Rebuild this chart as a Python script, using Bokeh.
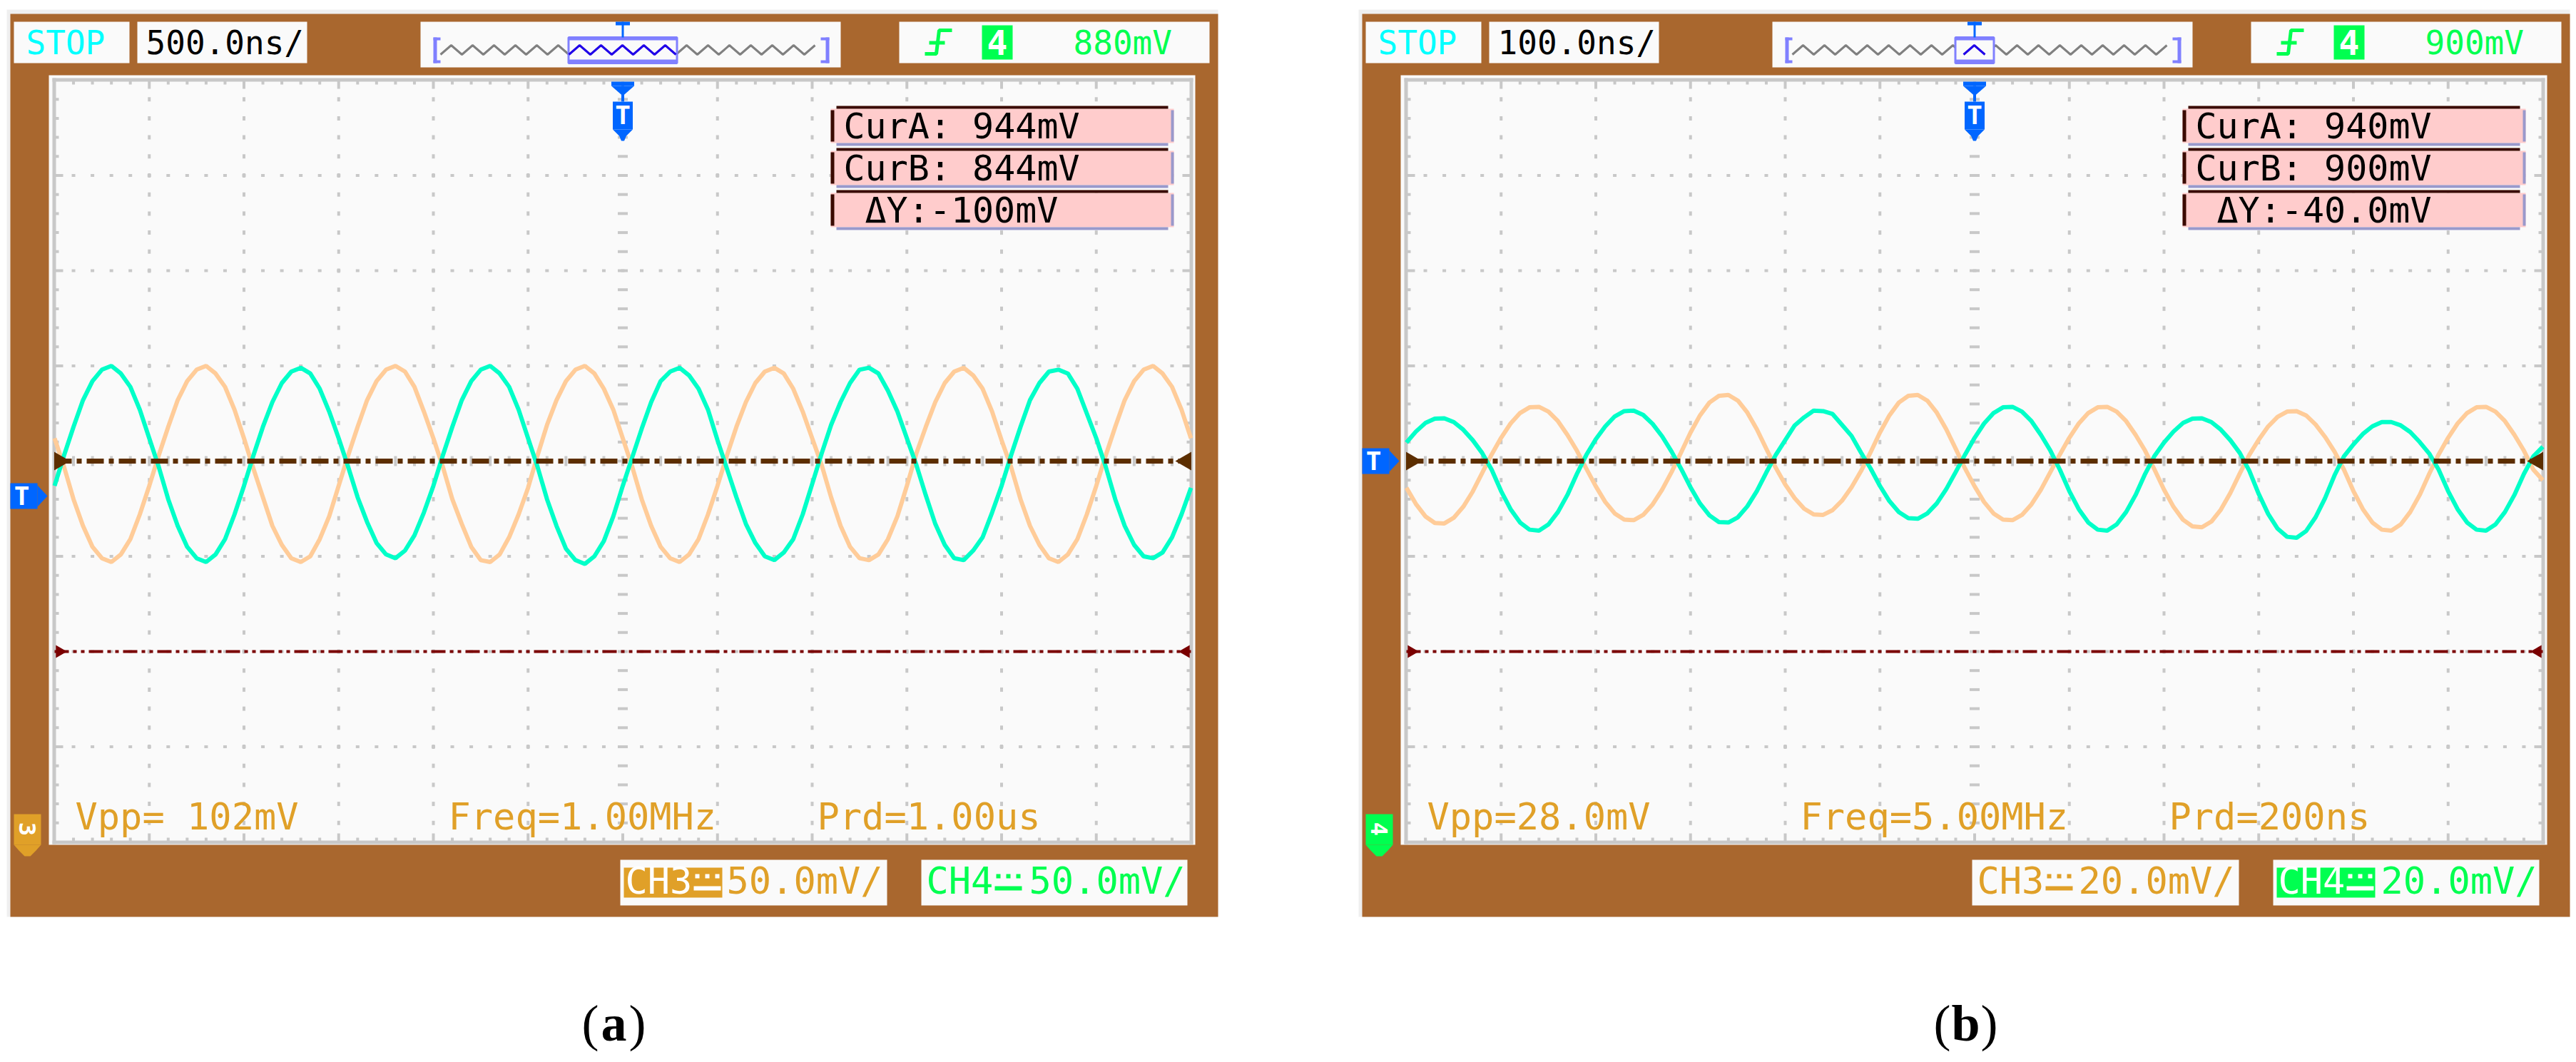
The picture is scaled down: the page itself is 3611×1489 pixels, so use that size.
import math
from bokeh.plotting import figure
from bokeh.models import Range1d
from bokeh.core.properties import value
from bokeh.embed import file_html
from bokeh.resources import INLINE

# ====================== DATA ======================
# ---- panel (a) ----
A_STATE = "STOP"
A_TIMEBASE = "500.0ns/"
A_TRIG_CH = "4"
A_TRIG_LEVEL = "880mV"
A_CUR_A_MV = 944
A_CUR_B_MV = 844
A_CURSOR_TEXT = ["CurA: 944mV", "CurB: 844mV", "ΔY:-100mV"]
A_MEAS_TEXT = ["Vpp= 102mV", "Freq=1.00MHz", "Prd=1.00us"]
A_CH3_SCALE = "50.0mV/"
A_CH4_SCALE = "50.0mV/"
A_NS_PER_DIV = 500
A_MV_PER_DIV = 50
A_TIME_NS = list(range(-3000, 3001, 50))
A_CH4_MV = [-13,
    3, 18, 32, 42, 48, 50, 46, 39, 27, 12, -3, -20, -34, -45, -51, -53, -49, -41, -28, -13,
    3, 18, 31, 41, 47, 49, 46, 38, 26, 12, -3, -19, -32, -43, -49, -51, -47, -39, -27, -13,
    3, 18, 32, 42, 48, 50, 46, 39, 27, 12, -3, -20, -34, -46, -52, -54, -50, -42, -29, -13,
    2, 17, 31, 42, 47, 49, 45, 38, 27, 11, -4, -19, -33, -43, -50, -52, -48, -41, -28, -12,
    4, 19, 31, 41, 48, 49, 46, 37, 26, 12, -2, -18, -33, -44, -51, -52, -47, -40, -27, -13,
    3, 18, 32, 41, 47, 48, 46, 38, 25, 12, -3, -20, -34, -44, -50, -51, -48, -40, -28, -14]
A_CH3_MV = [12,
    -3, -20, -34, -45, -51, -53, -49, -41, -28, -13, 3, 18, 32, 42, 48, 50, 46, 39, 27, 12,
    -4, -19, -34, -44, -51, -53, -50, -41, -29, -13, 3, 18, 32, 42, 48, 50, 47, 39, 26, 12,
    -3, -20, -33, -45, -52, -53, -49, -40, -28, -14, 3, 19, 32, 42, 48, 50, 46, 38, 27, 12,
    -3, -20, -34, -45, -51, -53, -49, -41, -28, -13, 3, 18, 31, 41, 47, 49, 46, 38, 26, 12,
    -2, -19, -34, -45, -51, -52, -49, -41, -29, -13, 4, 18, 31, 41, 47, 49, 45, 38, 26, 11,
    -3, -20, -34, -44, -51, -53, -49, -41, -28, -13, 3, 18, 32, 42, 48, 50, 46, 39, 27, 12]

# ---- panel (b) ----
B_STATE = "STOP"
B_TIMEBASE = "100.0ns/"
B_TRIG_CH = "4"
B_TRIG_LEVEL = "900mV"
B_CUR_A_MV = 940
B_CUR_B_MV = 900
B_CURSOR_TEXT = ["CurA: 940mV", "CurB: 900mV", "ΔY:-40.0mV"]
B_MEAS_TEXT = ["Vpp=28.0mV", "Freq=5.00MHz", "Prd=200ns"]
B_CH3_SCALE = "20.0mV/"
B_CH4_SCALE = "20.0mV/"
B_NS_PER_DIV = 100
B_MV_PER_DIV = 20
B_TIME_NS = list(range(-600, 601, 10))
B_CH4_MV = [
    3.9, 6.2, 8.0, 8.9, 9.0, 8.2, 6.6, 4.4, 1.7, -1.8, -6.3, -10.1, -12.9, -14.4, -14.6, -13.3, -10.7, -7.1, -2.7, 1.3,
    4.6, 7.3, 9.4, 10.5, 10.6, 9.7, 7.8, 5.2, 2.0, -1.6, -5.5, -8.9, -11.4, -12.8, -12.9, -11.8, -9.5, -6.3, -2.4, 1.3,
    4.4, 7.5, 9.2, 10.6, 10.5, 9.9, 7.6, 5.3, 1.8, -1.5, -5.2, -8.4, -10.7, -12.0, -12.1, -11.0, -8.9, -5.9, -2.3, 1.4,
    4.9, 7.9, 10.1, 11.3, 11.4, 10.4, 8.4, 5.5, 2.2, -1.8, -6.3, -10.1, -12.9, -14.4, -14.6, -13.3, -10.7, -7.1, -2.7, 1.1,
    3.9, 6.2, 8.0, 8.9, 9.0, 8.2, 6.6, 4.4, 1.7, -2.0, -6.9, -11.1, -14.2, -15.9, -16.1, -14.7, -11.8, -7.8, -3.0, 1.0,
    3.5, 5.7, 7.3, 8.2, 8.2, 7.5, 6.1, 4.0, 1.6, -1.8, -6.3, -10.1, -12.9, -14.4, -14.6, -13.3, -10.7, -7.1, -2.7, 1.0,
    3.0]
B_CH3_MV = [
    -5.6, -9.0, -11.6, -13.0, -13.1, -11.9, -9.6, -6.4, -2.5, 1.4, 4.9, 7.9, 10.1, 11.3, 11.4, 10.4, 8.4, 5.5, 2.2, -1.6,
    -5.3, -8.6, -11.0, -12.3, -12.4, -11.3, -9.1, -6.0, -2.3, 1.8, 6.0, 9.6, 12.3, 13.7, 13.9, 12.7, 10.2, 6.7, 2.6, -1.4,
    -4.9, -7.8, -10.0, -11.2, -11.3, -10.3, -8.3, -5.5, -2.1, 1.8, 6.0, 9.6, 12.3, 13.7, 13.9, 12.7, 10.2, 6.7, 2.6, -1.6,
    -5.3, -8.6, -11.0, -12.3, -12.4, -11.3, -9.1, -6.0, -2.3, 1.4, 4.9, 7.9, 10.1, 11.3, 11.4, 10.4, 8.4, 5.5, 2.2, -1.8,
    -6.0, -9.6, -12.3, -13.7, -13.9, -12.7, -10.2, -6.7, -2.6, 1.3, 4.5, 7.3, 9.3, 10.4, 10.5, 9.6, 7.7, 5.1, 2.0, -1.8,
    -6.3, -10.1, -12.9, -14.4, -14.6, -13.3, -10.7, -7.1, -2.7, 1.4, 4.9, 7.9, 10.1, 11.3, 11.4, 10.4, 8.4, 5.5, 2.2, -1.8,
    -4.0]

CAPTIONS = ["a", "b"]

# ====================== STYLE / LAYOUT ======================
BROWN = "#A9672E"
SCREEN = "#FAFAFA"
GRIDC = "#C8C8C8"
CYAN = "#00FFC8"
ORANGE = "#FFCC99"
CURA_C = "#5C2E00"
CURB_C = "#7A0000"
AMBER = "#E0A028"
GREEN = "#00FF50"
BLUE = "#0066FF"
PINK = "#FFCCCC"
DARK = "#3A0A00"
LAV = "#9999CC"
PURP = "#8080FF"
MONO = value("DejaVu Sans Mono")
SERIF = value("Liberation Serif")
FSN = 52      # bottom read-outs
FSH = 46      # header read-outs
FSC = 50      # cursor read-outs

W, H = 3611, 1489
PANEL_DX = 1895
GX0, GX1, GY0, GY1 = 76, 1669, 112, 1180
DX = (GX1 - GX0) / 12.0
DY = (GY1 - GY0) / 8.0
FRAME_BOTTOM = 1285

p = figure(width=W, height=H, x_range=Range1d(0, W), y_range=Range1d(H, 0),
           output_backend="svg", toolbar_location=None, min_border=0,
           x_axis_location=None, y_axis_location=None)
p.xgrid.visible = False
p.ygrid.visible = False
p.outline_line_color = None
p.background_fill_color = "white"
p.border_fill_color = "white"


def add_ranges(name, ox, ns_div, mv_div):
    gx0, gx1 = GX0 + ox, GX1 + ox
    t0, t1 = -6 * ns_div, 6 * ns_div
    k = (t1 - t0) / (gx1 - gx0)
    p.extra_x_ranges[name] = Range1d(t0 + (0 - gx0) * k, t0 + (W - gx0) * k)
    vt, vb = 4 * mv_div, -4 * mv_div
    kv = (vt - vb) / (GY1 - GY0)
    p.extra_y_ranges[name] = Range1d(vt - (H - GY0) * kv, vt + (GY0 - 0) * kv)


def txt(xs, ys, ts, color, size=FSN, align="left", font=MONO, style="normal", angle=0.0, mid=0.35):
    # ys are baselines; positioned through the middle of the text box
    p.text(x=xs, y=[y - mid * size for y in ys], text=ts, text_color=color, text_font=font,
           text_font_size="%dpx" % size, text_align=align, text_baseline="middle",
           text_font_style=style, angle=angle)


def draw_panel(ox, d, rname):
    X = lambda v: v + ox

    def box(l, r, t, b, c):
        p.quad(left=[X(l)], right=[X(r)], top=[t], bottom=[b], fill_color=c, line_color=None)

    box(9, 1707, 13, FRAME_BOTTOM, "#EFEFEF")
    box(14, 1707, 19, FRAME_BOTTOM, BROWN)
    box(68, 1675, 105, 1184, SCREEN)

    # ---- graticule ----
    gx0, gx1 = X(GX0), X(GX1)
    L, R, T, B = [], [], [], []

    def r(l, rr, t, b):
        L.append(l); R.append(rr); T.append(t); B.append(b)

    for k in range(1, 12):
        x = gx0 + k * DX
        for m in range(1, 40):
            y = GY0 + m * DY / 5
            if k == 6:
                r(x - 7, x + 7, y - 2, y + 2)
            else:
                r(x - 2, x + 2, y - 3, y + 3)
    for n in range(1, 8):
        y = GY0 + n * DY
        for m in range(1, 60):
            x = gx0 + m * DX / 5
            if n == 4:
                r(x - 2, x + 2, y - 7, y + 7)
            else:
                r(x - 2.5, x + 2.5, y - 2, y + 2)
    for m in range(1, 60):
        x = gx0 + m * DX / 5
        ln = 12 if m % 5 == 0 else 6
        r(x - 2, x + 2, GY0, GY0 + ln)
        r(x - 2, x + 2, GY1 - ln, GY1)
    for m in range(1, 40):
        y = GY0 + m * DY / 5
        ln = 12 if m % 5 == 0 else 6
        r(gx0, gx0 + ln, y - 2, y + 2)
        r(gx1 - ln, gx1, y - 2, y + 2)
    r(gx0 - 3, gx1 + 3, GY0 - 3, GY0 + 2)
    r(gx0 - 3, gx1 + 3, GY1 - 2, GY1 + 3)
    r(gx0 - 3, gx0 + 2, GY0 - 3, GY1 + 3)
    r(gx1 - 2, gx1 + 3, GY0 - 3, GY1 + 3)
    p.quad(left=L, right=R, top=T, bottom=B, fill_color=GRIDC, line_color=None)

    # ---- traces ----
    kw = dict(x_range_name=rname, y_range_name=rname)
    p.line(d["t"], d["ch3"], line_color=ORANGE, line_width=6, **kw)
    p.line(d["t"], d["ch4"], line_color=CYAN, line_width=6, **kw)

    # ---- cursor lines ----
    t0, t1 = -6 * d["nsdiv"], 6 * d["nsdiv"]
    ya = 0
    yb = d["curB"] - d["curA"]
    pxt = (t1 - t0) / (GX1 - GX0)
    p.line([t0, t1], [ya, ya], line_color=CURA_C, line_width=7, line_dash="24 7 7 7", **kw)
    p.line([t0, t1], [yb, yb], line_color=CURB_C, line_width=4, line_dash="20 6 5 6 5 6", **kw)
    for yy, c, s in ((ya, CURA_C, 26), (yb, CURB_C, 18)):
        p.scatter([t0 + 7 * pxt], [yy], marker="triangle", size=s, angle=-math.pi / 2,
                  fill_color=c, line_color=None, **kw)
        p.scatter([t1 - 7 * pxt], [yy], marker="triangle", size=s, angle=math.pi / 2,
                  fill_color=c, line_color=None, **kw)

    # ---- top trigger marker ----
    c = gx0 + 6 * DX
    p.quad(left=[c - 16], right=[c + 16], top=[114], bottom=[120], fill_color=BLUE, line_color=None)
    p.patch([c - 16, c + 16, c], [120, 120, 134], fill_color=BLUE, line_color=None)
    p.quad(left=[c - 2, c - 14], right=[c + 2, c + 14], top=[120, 142], bottom=[142, 181],
           fill_color=BLUE, line_color=None)
    p.patch([c - 14, c + 14, c + 5, c + 2, c - 2, c - 5], [181, 181, 190, 197, 197, 190],
            fill_color=BLUE, line_color=None)
    txt([c], [174], ["T"], "white", size=36, align="center", style="bold")

    # ---- left trigger-level marker ----
    yl = d["trig_y"]
    p.quad(left=[X(14)], right=[X(52)], top=[yl - 18], bottom=[yl + 18], fill_color=BLUE, line_color=None)
    p.patch([X(52), X(52), X(66)], [yl - 15, yl + 15, yl], fill_color=BLUE, line_color=None)
    txt([X(30)], [yl + 13], ["T"], "white", size=36, align="center", style="bold")

    # ---- bottom-left channel marker ----
    mc = d["mark_color"]
    p.quad(left=[X(19)], right=[X(57)], top=[1141], bottom=[1184], fill_color=mc, line_color=None)
    p.patch([X(19), X(57), X(50), X(42), X(34), X(26)], [1184, 1184, 1192, 1200, 1200, 1192],
            fill_color=mc, line_color=None)
    p.text(x=[X(38)], y=[1162], text=[d["mark_text"]], text_color="white", text_font=MONO,
           text_font_size="32px", text_align="center", text_baseline="middle",
           text_font_style="bold", angle=-math.pi / 2)

    # ---- header boxes ----
    box(19, 181, 30, 88, SCREEN)
    box(192, 430, 30, 88, SCREEN)
    box(589, 1178, 30, 94, SCREEN)
    box(1260, 1695, 30, 88, SCREEN)
    txt([X(36)], [76], [d["state"]], "#00FFFF", size=FSH)
    txt([X(204)], [76], [d["timebase"]], "black", size=FSH)

    # overview strip
    zx = [X(617) + 15 * i for i in range(36)]
    zy = [63 if i % 2 else 76 for i in range(36)]
    p.line(zx, zy, line_color="#808080", line_width=3)
    hw = d["win_half"]
    wx = [v for v in zx if c - hw <= v <= c + hw]
    wy = [zy[zx.index(v)] for v in wx]
    p.quad(left=[c - hw], right=[c + hw], top=[52], bottom=[88], fill_color=SCREEN,
           line_color=PURP, line_width=3)
    p.line(wx, wy, line_color="#2000E8", line_width=3)
    p.quad(left=[c - hw, c - hw], right=[c + hw, c + hw], top=[51, 83], bottom=[56, 89],
           fill_color=PURP, line_color=None)
    p.quad(left=[X(607), X(607), X(607), X(1157), X(1150), X(1150)],
           right=[X(612), X(617), X(617), X(1162), X(1162), X(1162)],
           top=[52, 52, 84, 52, 52, 84], bottom=[88, 56, 88, 88, 56, 88],
           fill_color=PURP, line_color=None)
    p.quad(left=[c - 1.5, c - 10], right=[c + 1.5, c + 10], top=[30, 30], bottom=[52, 35],
           fill_color=BLUE, line_color=None)

    # trigger box
    p.line([X(1296), X(1312), X(1316), X(1334)], [75, 75, 42, 42], line_color=GREEN, line_width=5)
    p.quad(left=[X(1302)], right=[X(1324)], top=[57], bottom=[62], fill_color=GREEN, line_color=None)
    p.quad(left=[X(1376)], right=[X(1419)], top=[35], bottom=[83], fill_color=GREEN, line_color=None)
    txt([X(1397.5)], [76], [d["trig_ch"]], "white", size=48, align="center", style="bold")
    txt([X(1504)], [76], [d["trig_level"]], GREEN, size=FSH)

    # cursor boxes
    for i, t in enumerate(d["cursor_text"]):
        top = 148 + 59 * i
        box(1164, 1645, top + 4, top + 52, PINK)
        box(1172, 1637, top, top + 4, DARK)
        box(1164, 1169, top + 6, top + 50, DARK)
        box(1172, 1637, top + 52, top + 56, LAV)
        box(1641, 1645, top + 6, top + 50, LAV)
        indent = 30 if i == 2 else 0
        txt([X(1182 + indent)], [top + 46], [t], "black", size=FSC)

    # measurements
    txt([X(105), X(628), X(1145)], [1163] * 3, d["meas"], AMBER)

    # channel boxes
    box(869, 1243, 1205, 1269, SCREEN)
    box(1291, 1664, 1205, 1269, SCREEN)

    def dc(x0, col):
        p.quad(left=[x0, x0 + 2, x0 + 16, x0 + 30], right=[x0 + 38, x0 + 8, x0 + 22, x0 + 36],
               top=[1242, 1225, 1225, 1225], bottom=[1248, 1231, 1231, 1231],
               fill_color=col, line_color=None)

    if d["active"] == 3:
        box(874, 1012, 1216, 1258, AMBER)
        txt([X(876)], [1253], ["CH3"], "white")
        dc(X(972), "white")
    else:
        txt([X(876)], [1253], ["CH3"], AMBER)
        dc(X(972), AMBER)
    txt([X(1018)], [1253], [d["ch3_scale"]], AMBER)
    if d["active"] == 4:
        box(1296, 1434, 1216, 1258, GREEN)
        txt([X(1298)], [1253], ["CH4"], "white")
        dc(X(1394), "white")
    else:
        txt([X(1298)], [1253], ["CH4"], GREEN)
        dc(X(1394), GREEN)
    txt([X(1442)], [1253], [d["ch4_scale"]], GREEN)

    # caption
    cc = X(860)
    txt([cc - 21], [1459], ["("], "black", size=72, align="right", font=SERIF, mid=0.34)
    txt([cc], [1459], [d["caption"]], "black", size=72, align="center", font=SERIF, style="bold", mid=0.34)
    txt([cc + 21], [1459], [")"], "black", size=72, align="left", font=SERIF, mid=0.34)


add_ranges("A", 0, A_NS_PER_DIV, A_MV_PER_DIV)
add_ranges("B", PANEL_DX, B_NS_PER_DIV, B_MV_PER_DIV)

panel_a = dict(t=A_TIME_NS, ch3=A_CH3_MV, ch4=A_CH4_MV, nsdiv=A_NS_PER_DIV,
               curA=A_CUR_A_MV, curB=A_CUR_B_MV, trig_y=695, mark_color=AMBER, mark_text="3",
               state=A_STATE, timebase=A_TIMEBASE, win_half=76, trig_ch=A_TRIG_CH,
               trig_level=A_TRIG_LEVEL, cursor_text=A_CURSOR_TEXT, meas=A_MEAS_TEXT,
               active=3, ch3_scale=A_CH3_SCALE, ch4_scale=A_CH4_SCALE, caption=CAPTIONS[0])
panel_b = dict(t=B_TIME_NS, ch3=B_CH3_MV, ch4=B_CH4_MV, nsdiv=B_NS_PER_DIV,
               curA=B_CUR_A_MV, curB=B_CUR_B_MV, trig_y=646, mark_color=GREEN, mark_text="4",
               state=B_STATE, timebase=B_TIMEBASE, win_half=27, trig_ch=B_TRIG_CH,
               trig_level=B_TRIG_LEVEL, cursor_text=B_CURSOR_TEXT, meas=B_MEAS_TEXT,
               active=4, ch3_scale=B_CH3_SCALE, ch4_scale=B_CH4_SCALE, caption=CAPTIONS[1])

draw_panel(0, panel_a, "A")
draw_panel(PANEL_DX, panel_b, "B")

open("out.html", "w").write(file_html(p, INLINE, "oscilloscope"))
